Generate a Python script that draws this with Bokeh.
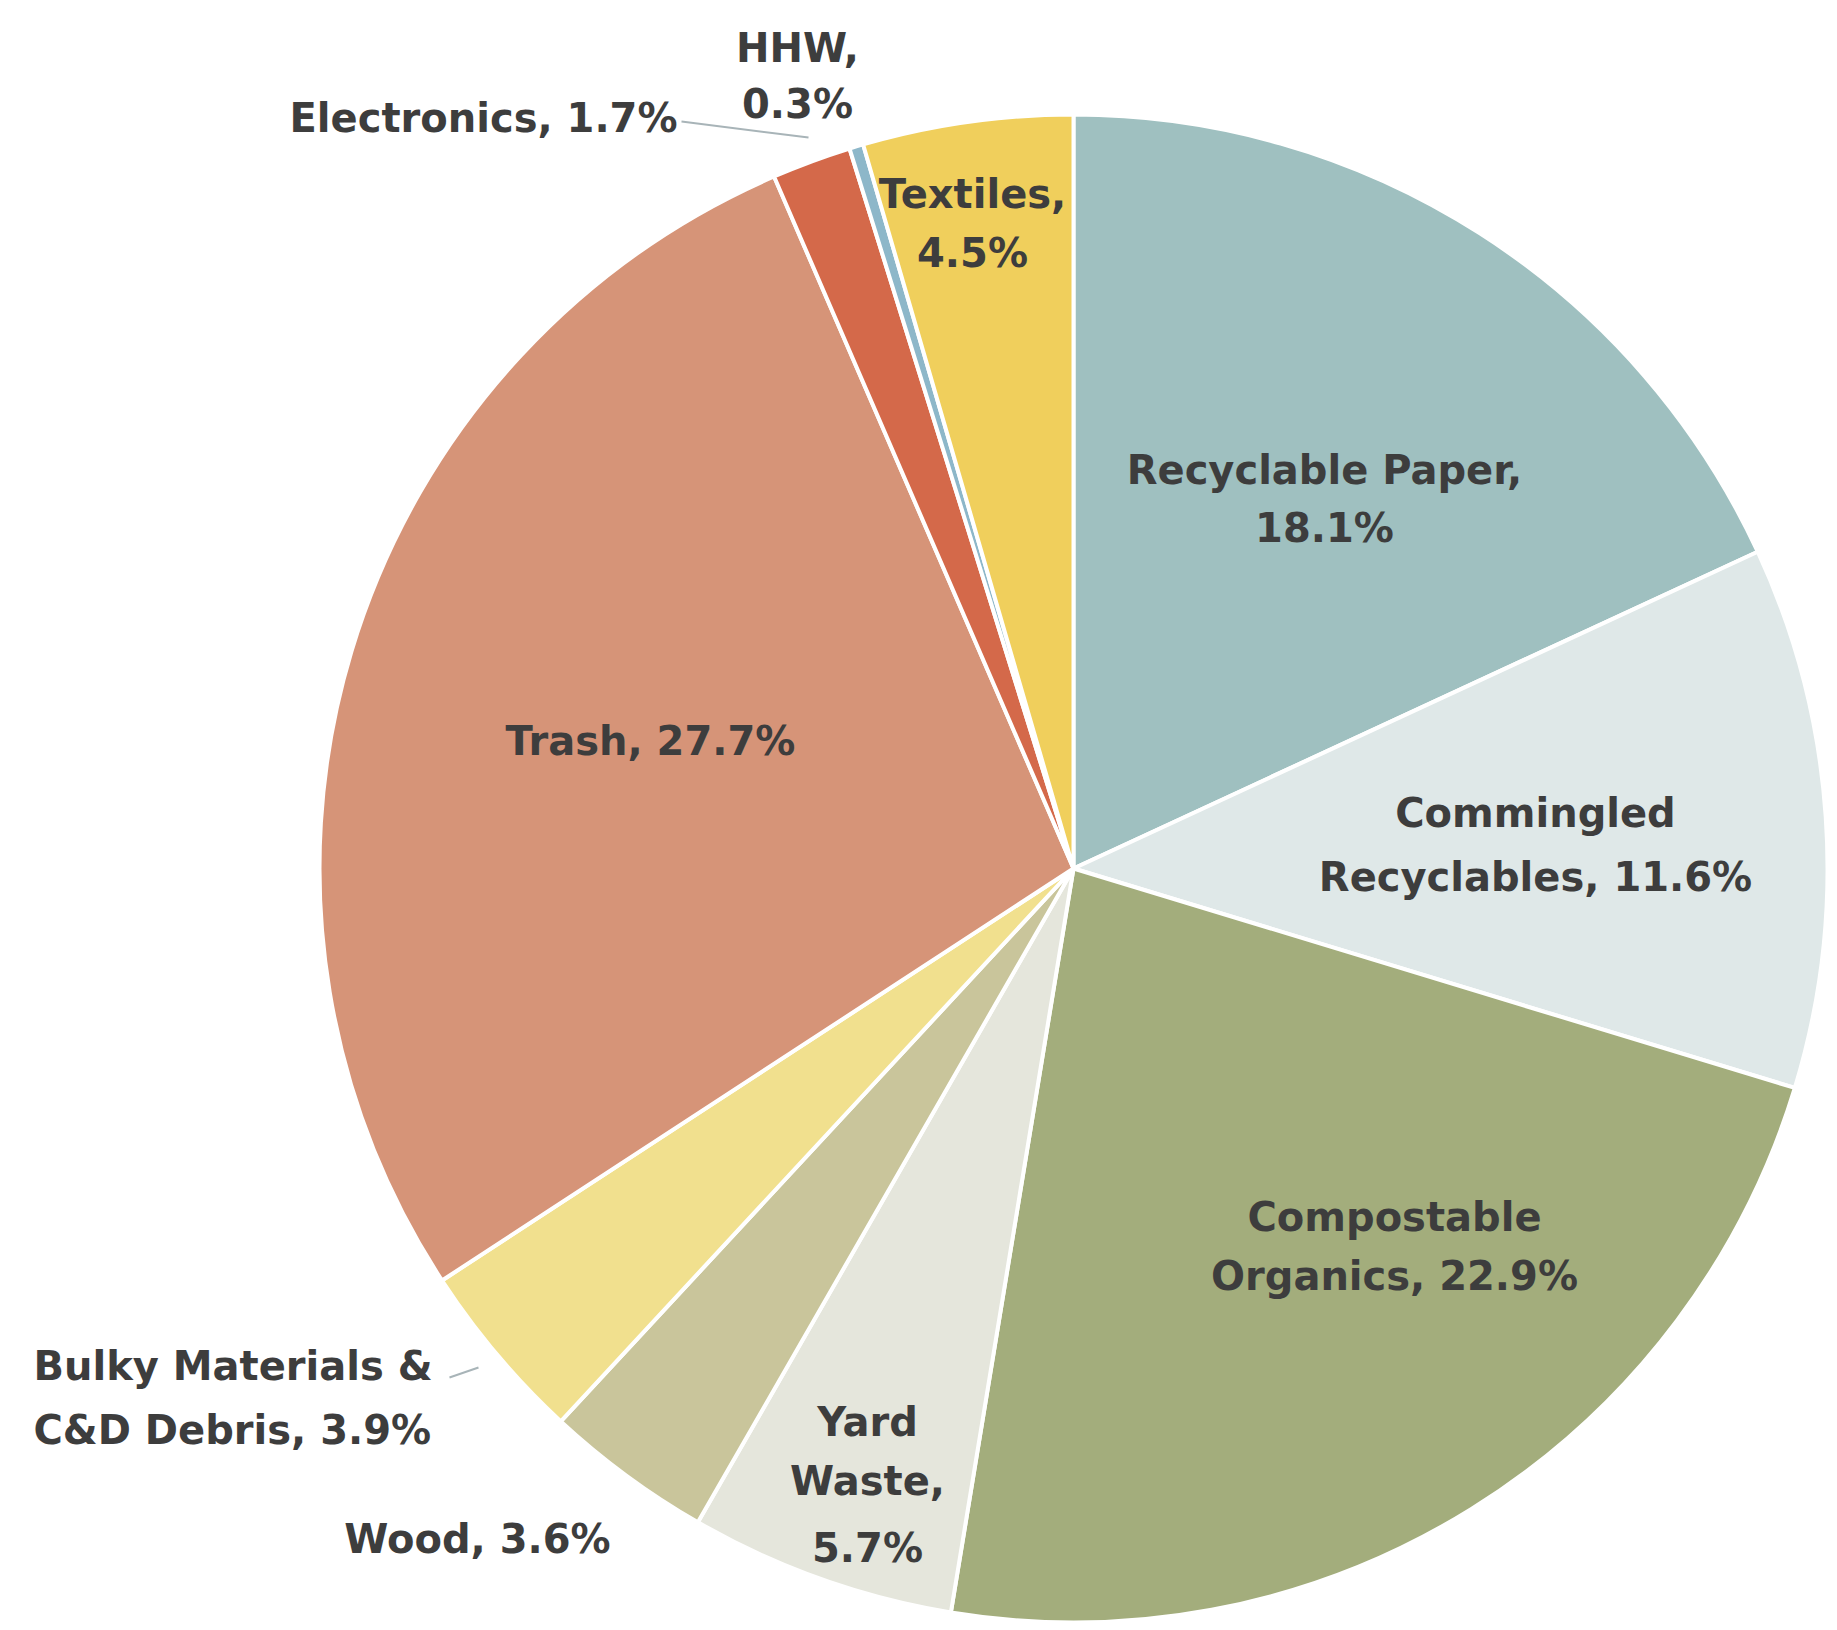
import numpy as np
from bokeh.plotting import figure
from bokeh.models import ColumnDataSource, Range1d
from bokeh.core.properties import value
from bokeh.embed import file_html
from bokeh.resources import INLINE

# ---- data (clockwise from 12 o'clock) ----
categories = ["Recyclable Paper", "Commingled Recyclables", "Compostable Organics",
              "Yard Waste", "Wood", "Bulky Materials & C&D Debris", "Trash",
              "Electronics", "HHW", "Textiles"]
shares = [18.1, 11.6, 22.9, 5.7, 3.6, 3.9, 27.7, 1.7, 0.3, 4.5]
colors = ["#9fc0c0", "#dfe8e8", "#a3ad7c", "#e5e6dc", "#c9c59b",
          "#f1e08e", "#d69478", "#d4694a", "#8db7c9", "#f0cf5c"]

# label line templates ({v} -> share)
label_lines = [
    ["Recyclable Paper,", "{v}%"],
    ["Commingled", "Recyclables, {v}%"],
    ["Compostable", "Organics, {v}%"],
    ["Yard", "Waste,", "{v}%"],
    ["Wood, {v}%"],
    ["Bulky Materials &", "C&D Debris, {v}%"],
    ["Trash, {v}%"],
    ["Electronics, {v}%"],
    ["HHW,", "{v}%"],
    ["Textiles,", "{v}%"],
]

# ---- layout (image pixel coordinates, y downward) ----
W, H = 1837, 1630
PW, PH = W - 4, H - 4
cx, cy, R = 1073, 868, 754
label_layout = [  # (x, [y per line], align)
    (1324, [469, 527], "center"),
    (1535, [812, 876], "center"),
    (1394, [1216, 1275], "center"),
    (867, [1421, 1480, 1547], "center"),
    (477, [1538], "center"),
    (33, [1365, 1429], "left"),
    (650, [740], "center"),
    (677, [117], "right"),
    (797, [47, 103], "center"),
    (972, [193, 252], "center"),
]
leaders = [  # (x0, y0, x1, y1) image coords
    (681, 121, 808, 137),      # Electronics
    (449, 1377, 478, 1367),    # Bulky
]

def Y(y):
    return H - y

vals = np.array(shares, dtype=float)
cum = np.concatenate([[0], np.cumsum(vals)]) / vals.sum()
start = np.pi / 2 - 2 * np.pi * cum[:-1]
end = np.pi / 2 - 2 * np.pi * cum[1:]

src = ColumnDataSource(dict(cat=categories, share=shares, color=colors,
                            start=start, end=end))

p = figure(width=PW, height=PH, output_backend="svg", toolbar_location=None,
           x_range=Range1d(0, PW), y_range=Range1d(H - PH, H), min_border=0)
p.axis.visible = False
p.grid.visible = False
p.outline_line_color = None
p.background_fill_color = "white"

p.wedge(x=cx, y=Y(cy), radius=R, start_angle="start", end_angle="end",
        direction="clock", fill_color="color", line_color="white", line_width=4,
        source=src)

for (x0, y0, x1, y1) in leaders:
    p.line([x0, x1], [Y(y0), Y(y1)], line_color="#a8b4b8", line_width=2)

tx, ty, tt, ta = [], [], [], []
for lines, share, (lx, lys, al) in zip(label_lines, shares, label_layout):
    for ln, ly in zip(lines, lys):
        tx.append(lx)
        ty.append(Y(ly))
        tt.append(ln.format(v=f"{share:.1f}"))
        ta.append(al)

tsrc = ColumnDataSource(dict(x=tx, y=ty, text=tt, align=ta))
p.text(x="x", y="y", text="text", text_align="align", text_baseline="middle",
       text_font=value("DejaVu Sans"), text_font_style="bold", text_font_size="40px",
       text_color="#3d3d3d", source=tsrc)

open("out.html", "w").write(file_html(p, INLINE))
